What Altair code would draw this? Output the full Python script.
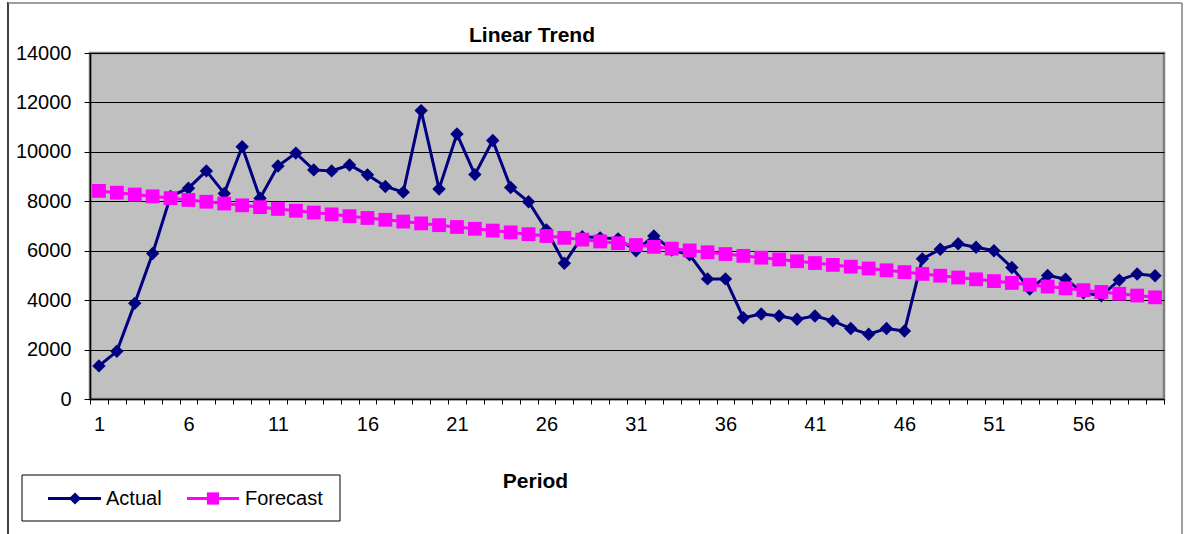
import altair as alt
import pandas as pd

periods = list(range(1, 61))
actual = [1340, 1930, 3870, 5890, 8200, 8530, 9230, 8320, 10210, 8120,
          9430, 9950, 9270, 9230, 9470, 9070, 8600, 8370, 11670, 8500,
          10720, 9080, 10460, 8560, 7980, 6840, 5490, 6570, 6520, 6480,
          6000, 6600, 6030, 5830, 4860, 4860, 3290, 3440, 3360, 3230,
          3360, 3160, 2850, 2620, 2850, 2750, 5670, 6060, 6280, 6140,
          6000, 5320, 4450, 5000, 4850, 4300, 4180, 4810, 5060, 4990]
forecast = [8420, 8347, 8274, 8201, 8128, 8055, 7982, 7909, 7836, 7763,
            7690, 7617, 7544, 7471, 7398, 7325, 7252, 7179, 7106, 7033,
            6960, 6887, 6814, 6741, 6668, 6595, 6522, 6449, 6376, 6303,
            6230, 6157, 6084, 6011, 5938, 5865, 5792, 5719, 5646, 5573,
            5500, 5427, 5354, 5281, 5208, 5135, 5062, 4989, 4916, 4843,
            4770, 4697, 4624, 4551, 4478, 4405, 4332, 4259, 4186, 4113]
series_names = ["Actual", "Forecast"]
y_ticks = [0, 2000, 4000, 6000, 8000, 10000, 12000, 14000]
x_tick_bounds = [k + 0.5 for k in range(61)]

FONT = "Liberation Sans"
NAVY = "#000080"
MAGENTA = "#FF00FF"

df = pd.DataFrame({
    "period": periods * 2,
    "value": actual + forecast,
    "series": [series_names[0]] * len(periods) + [series_names[1]] * len(periods),
})

W, H = 1074, 346

x_enc = alt.X(
    "period:Q",
    scale=alt.Scale(domain=[0.5, 60.5], nice=False, zero=False),
    axis=alt.Axis(
        values=x_tick_bounds,
        labelExpr="datum.value < 60 && (datum.value + 0.5) % 5 == 1 ? format(datum.value + 0.5, 'd') : ''",
        labelOffset=W / 60 / 2,
        labelFont=FONT, labelFontSize=20, labelColor="black",
        labelPadding=10, labelOverlap=False, labelBound=False, labelFlush=False,
        tickSize=5, tickColor="black", tickWidth=1,
        domainColor="black", domainWidth=1.5,
        grid=False,
        title="Period", titleFont=FONT, titleFontSize=21, titleFontWeight="bold",
        titleColor="black", titleX=445, titleY=82, titleBaseline="middle",
    ),
)
y_enc = alt.Y(
    "value:Q",
    scale=alt.Scale(domain=[0, 14000], nice=False),
    axis=alt.Axis(
        values=y_ticks, format="d",
        labelFont=FONT, labelFontSize=20, labelColor="black", labelPadding=13,
        tickSize=6, tickColor="black", tickWidth=1,
        domainColor="black", domainWidth=1.5,
        grid=True, gridColor="black", gridWidth=1,
        title=None,
    ),
)

base = alt.Chart(df).encode(x=x_enc, y=y_enc)

act_line = base.transform_filter(alt.datum.series == "Actual").mark_line(color=NAVY, strokeWidth=3)
act_pts = base.transform_filter(alt.datum.series == "Actual").mark_point(
    shape="diamond", filled=True, color=NAVY, size=180, opacity=1)
fc_line = base.transform_filter(alt.datum.series == "Forecast").mark_line(color=MAGENTA, strokeWidth=3)
fc_pts = base.transform_filter(alt.datum.series == "Forecast").mark_point(
    shape="square", filled=True, color=MAGENTA, size=190, opacity=1)

one = pd.DataFrame({"k": [0]})
dec = alt.Chart(one)

# outer frame
frame_left = dec.mark_rule(color="black", strokeWidth=1.5).encode(
    x=alt.value(-82), y=alt.value(-51), y2=alt.value(485))
frame_top = dec.mark_rule(color="#808080", strokeWidth=1.5).encode(
    x=alt.value(-82), x2=alt.value(1092), y=alt.value(-50))
frame_right = dec.mark_rule(color="#808080", strokeWidth=1.5).encode(
    x=alt.value(1092), y=alt.value(-50), y2=alt.value(485))

title = dec.mark_text(text="Linear Trend", font=FONT, fontSize=21, fontWeight="bold",
                      color="black", align="center", baseline="middle").encode(
    x=alt.value(442), y=alt.value(-17))

# legend
leg_box = dec.mark_rect(fill="white", stroke="black", strokeWidth=1).encode(
    x=alt.value(-68), x2=alt.value(250), y=alt.value(422), y2=alt.value(468))
leg_a_line = dec.mark_rule(color=NAVY, strokeWidth=3).encode(
    x=alt.value(-42), x2=alt.value(11), y=alt.value(445.5))
leg_a_pt = dec.mark_point(shape="diamond", filled=True, color=NAVY, size=150, opacity=1).encode(
    x=alt.value(-15), y=alt.value(445.5))
leg_a_txt = dec.mark_text(text=series_names[0], font=FONT, fontSize=20, color="black",
                          align="left", baseline="middle").encode(
    x=alt.value(16), y=alt.value(446))
leg_f_line = dec.mark_rule(color=MAGENTA, strokeWidth=3).encode(
    x=alt.value(97), x2=alt.value(149), y=alt.value(445.5))
leg_f_pt = dec.mark_point(shape="square", filled=True, color=MAGENTA, size=150, opacity=1).encode(
    x=alt.value(123), y=alt.value(445.5))
leg_f_txt = dec.mark_text(text=series_names[1], font=FONT, fontSize=20, color="black",
                          align="left", baseline="middle").encode(
    x=alt.value(155), y=alt.value(446))

chart = alt.layer(
    act_line, act_pts, fc_line, fc_pts,
    frame_left, frame_top, frame_right, title,
    leg_box, leg_a_line, leg_a_pt, leg_a_txt, leg_f_line, leg_f_pt, leg_f_txt,
).properties(
    width=W, height=H,
    padding={"left": 90, "top": 53, "right": 24, "bottom": 135},
    autosize=alt.AutoSizeParams(type="none"),
    background="white",
).configure_view(
    fill="#C0C0C0", stroke="#808080", strokeWidth=2.5,
)

chart.save("out.html", embed_options={"renderer": "svg", "actions": False})
